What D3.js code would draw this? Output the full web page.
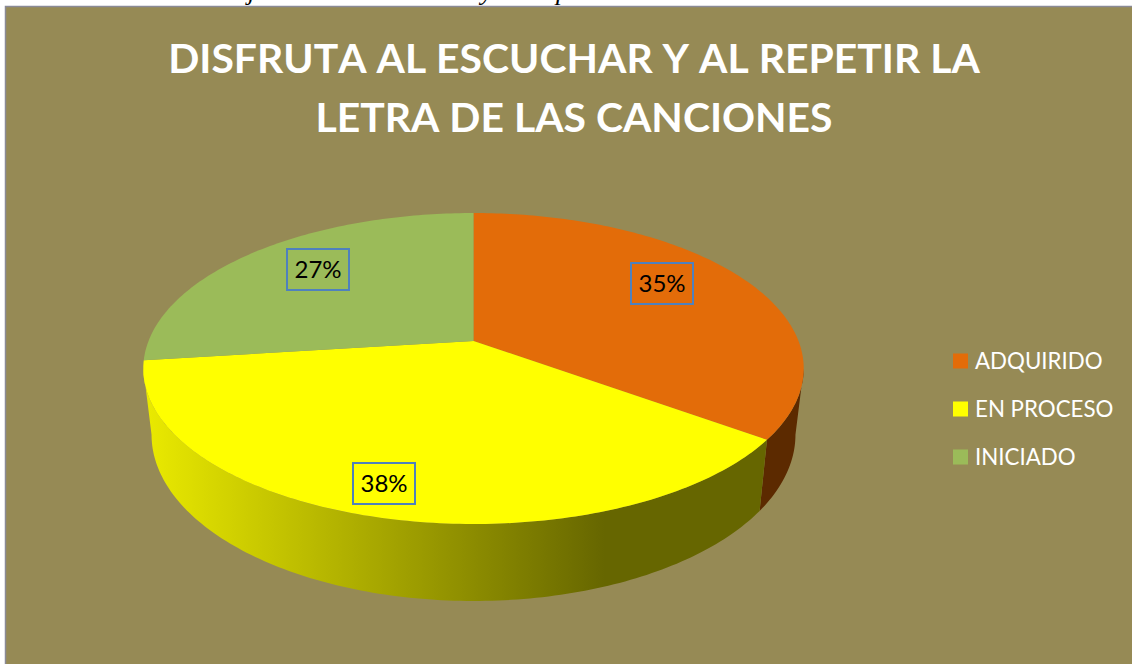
<!DOCTYPE html>
<html>
<head>
<meta charset="utf-8">
<script src="https://cdn.jsdelivr.net/npm/d3@7"></script>
<style>
  html, body { margin: 0; padding: 0; background: #fff; overflow: hidden; }
  text { font-family: Lato, "Noto Sans", sans-serif; }
</style>
</head>
<body>
<div id="chart"></div>
<script>
var categories = ["ADQUIRIDO", "EN PROCESO", "INICIADO"];
var values = [35, 38, 27];
var titleLines = ["DISFRUTA AL ESCUCHAR Y AL REPETIR LA", "LETRA DE LAS CANCIONES"];
var topColors = ["#E36C09", "#FFFF00", "#9BBB59"];
var wallColors = ["#5C2A00", "url(#wallShade)"];
var clippedLetters = ["j", "y", "p"];

var w = 1132;
var h = 664;

// perspective of the pie top: unit circle -> screen
var cx = 473.5;
var cy = 341;
var radiusX = 325;
var radiusY = 150.6;
var tilt = 0.177;

// the wall can only be seen between these two rim angles
var wallFrom = Math.acos(-tilt);
var wallTo = 2 * Math.PI - wallFrom;

var svg = d3.select("#chart")
  .append("svg")
  .attr("width", w)
  .attr("height", h);

function project(angle) {
  var u = Math.sin(angle);
  var v = Math.cos(angle);
  var d = 1 + tilt * v;
  return [cx + radiusX * u / d, cy - radiusY * v / d];
}

// rim of the pie bottom, follows the top rim
function lower(p) {
  return [cx + (p[0] - cx) * 0.975, p[1] + 77 + (p[1] - 524) * 0.07];
}

function arcPoints(a0, a1) {
  var n = Math.ceil((a1 - a0) * 60);
  return d3.range(n + 1).map(function(i) {
    return project(a0 + (a1 - a0) * i / n);
  });
}

var line = d3.line();

var defs = svg.append("defs");

var shade = defs.append("linearGradient")
  .attr("id", "wallShade")
  .attr("gradientUnits", "userSpaceOnUse")
  .attr("x1", 145)
  .attr("x2", 605)
  .attr("y1", 0)
  .attr("y2", 0);
shade.append("stop").attr("offset", 0).attr("stop-color", "#EAEA00");
shade.append("stop").attr("offset", 1).attr("stop-color", "#666600");

// bits of the line of text above the chart, cut off by the plot area
var letterX = [248, 481, 556];
svg.selectAll("text.cut")
  .data(clippedLetters)
  .enter()
  .append("text")
  .attr("class", "cut")
  .attr("x", function(d, i) { return letterX[i]; })
  .attr("y", 0)
  .attr("fill", "#000")
  .style("font-family", "Liberation Serif")
  .style("font-style", "italic")
  .style("font-size", "26px")
  .text(function(d) { return d; });

svg.append("rect")
  .attr("x", 5.5)
  .attr("y", 6.5)
  .attr("width", w)
  .attr("height", h)
  .attr("fill", "#968A55")
  .attr("stroke", "#8A8A96")
  .attr("stroke-width", 1.5);

svg.selectAll("text.title")
  .data(titleLines)
  .enter()
  .append("text")
  .attr("class", "title")
  .attr("x", 574)
  .attr("y", function(d, i) { return 73 + i * 59; })
  .attr("text-anchor", "middle")
  .attr("fill", "#fff")
  .style("font-size", "40.9px")
  .style("font-weight", "700")
  .style("font-kerning", "none")
  .text(function(d) { return d; });

var slices = d3.pie().sort(null)(values);

svg.selectAll("path.wall")
  .data(wallColors)
  .enter()
  .append("path")
  .attr("class", "wall")
  .attr("fill", function(d) { return d; })
  .attr("d", function(d, i) {
    var a0 = Math.max(slices[i].startAngle, wallFrom);
    var a1 = Math.min(slices[i].endAngle, wallTo);
    var rim = arcPoints(a0, a1);
    return line(rim.concat(rim.map(lower).reverse())) + "Z";
  });

svg.selectAll("path.top")
  .data(slices)
  .enter()
  .append("path")
  .attr("class", "top")
  .attr("fill", function(d, i) { return topColors[i]; })
  .attr("d", function(d) {
    return line([[cx, cy]].concat(arcPoints(d.startAngle, d.endAngle))) + "Z";
  });

// data labels, excel leaves them off-centre in the slices
var labelCentres = [[662, 283.5], [384, 483.5], [318, 269.5]];
var labels = svg.selectAll("g.dataLabel")
  .data(values)
  .enter()
  .append("g")
  .attr("class", "dataLabel")
  .attr("transform", function(d, i) {
    return "translate(" + labelCentres[i][0] + "," + labelCentres[i][1] + ")";
  });

labels.append("rect")
  .attr("x", -31)
  .attr("y", -20.5)
  .attr("width", 62)
  .attr("height", 41)
  .attr("fill", "none")
  .attr("stroke", "#4F81BD")
  .attr("stroke-width", 2);

labels.append("text")
  .attr("y", 8.5)
  .attr("text-anchor", "middle")
  .attr("fill", "#000")
  .style("font-size", "24px")
  .text(function(d) { return d + "%"; });

var legendY = d3.scalePoint()
  .domain(categories)
  .range([361, 457]);

var legend = svg.selectAll("g.legendItem")
  .data(categories)
  .enter()
  .append("g")
  .attr("class", "legendItem")
  .attr("transform", function(d) { return "translate(953," + legendY(d) + ")"; });

legend.append("rect")
  .attr("y", -7.5)
  .attr("width", 15)
  .attr("height", 15)
  .attr("fill", function(d, i) { return topColors[i]; });

legend.append("text")
  .attr("x", 22)
  .attr("y", 7.5)
  .attr("fill", "#fff")
  .style("font-size", "22.3px")
  .text(function(d) { return d; });
</script>
</body>
</html>
